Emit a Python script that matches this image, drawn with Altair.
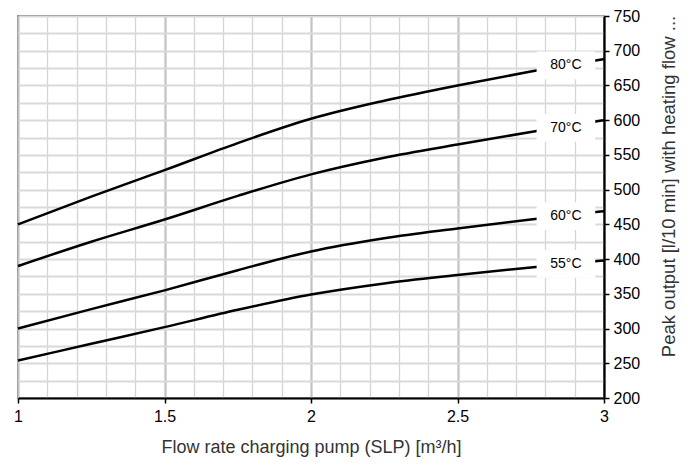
import altair as alt
import pandas as pd

# Data
flow = [1.0, 1.25, 1.5, 1.75, 2.0, 2.25, 2.5, 2.75, 3.0]
out_80 = [450, 490, 528, 567, 602, 628, 650, 670, 688]
out_70 = [390, 425, 457, 491, 522, 546, 565, 583, 600]
out_60 = [300, 328, 355, 384, 411, 430, 444, 457, 469]
out_55 = [254, 278, 302, 327, 349, 365, 377, 388, 398]

series_names = ["80°C", "70°C", "60°C", "55°C"]
series_values = [out_80, out_70, out_60, out_55]
label_values = [679, 589, 462, 393]
label_flow = 2.87

rows = []
for name, vals in zip(series_names, series_values):
    for f, v in zip(flow, vals):
        rows.append({"series": name, "flow": f, "out": v})
df = pd.DataFrame(rows)
lab = pd.DataFrame({"series": series_names, "out": label_values,
                    "flow": [label_flow] * len(series_names)})

FONT = "Liberation Sans"
major_x = "abs(datum.value*2 - round(datum.value*2)) < 0.001"
major_y = "datum.value % 50 === 0"

x_ticks = [round(1 + 0.1 * i, 1) for i in range(21)]
y_ticks = list(range(200, 751, 25))

xaxis = alt.Axis(
    values=x_ticks, format="~g",
    labelExpr=f"({major_x}) ? datum.label : ''",
    grid=True,
    gridColor={"condition": {"test": major_x, "value": "#c2c2c2"}, "value": "#d4d4d4"},
    gridWidth={"condition": {"test": major_x, "value": 2.2}, "value": 1.3},
    tickSize={"condition": {"test": major_x, "value": 5}, "value": 0},
    tickColor="black", tickWidth=1.5,
    domainColor="black", domainWidth=2.2,
    labelFont=FONT, labelFontSize=16, labelColor="black", labelPadding=5,
    labelFlush=False,
    title="Flow rate charging pump (SLP) [m³/h]",
    titleFont=FONT, titleFontSize=18, titleFontWeight="normal", titleColor="#333",
    titlePadding=14,
)
yaxis = alt.Axis(
    orient="right", values=y_ticks,
    labelExpr=f"({major_y}) ? datum.label : ''",
    grid=True, gridColor="#d9d9d9", gridWidth=1.8,
    tickSize={"condition": {"test": major_y, "value": 5}, "value": 0},
    tickColor="black", tickWidth=1.5,
    domainColor="black", domainWidth=2.2,
    labelFont=FONT, labelFontSize=16, labelColor="black", labelPadding=4,
    labelFlush=False,
    title="Peak output [l/10 min] with heating flow ...",
    titleFont=FONT, titleFontSize=18.5, titleFontWeight="normal", titleColor="#333",
    titleAngle=270, titleX=64, titleY=170, titleAlign="center", titleBaseline="middle",
)

xscale = alt.Scale(domain=[1, 3], nice=False, zero=False)
yscale = alt.Scale(domain=[200, 750], nice=False, zero=False)

lines = alt.Chart(df).mark_line(color="black", strokeWidth=2.5, interpolate="monotone").encode(
    x=alt.X("flow:Q", scale=xscale, axis=xaxis),
    y=alt.Y("out:Q", scale=yscale, axis=yaxis),
    detail="series:N",
)

boxes = alt.Chart(lab).transform_calculate(
    x0="datum.flow - 0.1", x1="datum.flow + 0.1",
    y0="datum.out - 20", y1="datum.out + 20",
).mark_rect(color="white").encode(
    x=alt.X("x0:Q", scale=xscale, axis=xaxis),
    x2="x1:Q",
    y=alt.Y("y0:Q", scale=yscale, axis=yaxis),
    y2="y1:Q",
)

texts = alt.Chart(lab).mark_text(font=FONT, fontSize=14, color="black").encode(
    x=alt.X("flow:Q", scale=xscale, axis=xaxis),
    y=alt.Y("out:Q", scale=yscale, axis=yaxis),
    text="series:N",
)

chart = alt.layer(lines, boxes, texts).properties(
    width=586, height=382,
    autosize=alt.AutoSizeParams(type="none"),
    padding={"left": 10, "top": 8, "right": 80, "bottom": 60},
).configure_view(stroke="#444", strokeWidth=1.5)

chart.save("out.html", embed_options={"renderer": "svg", "actions": False})
